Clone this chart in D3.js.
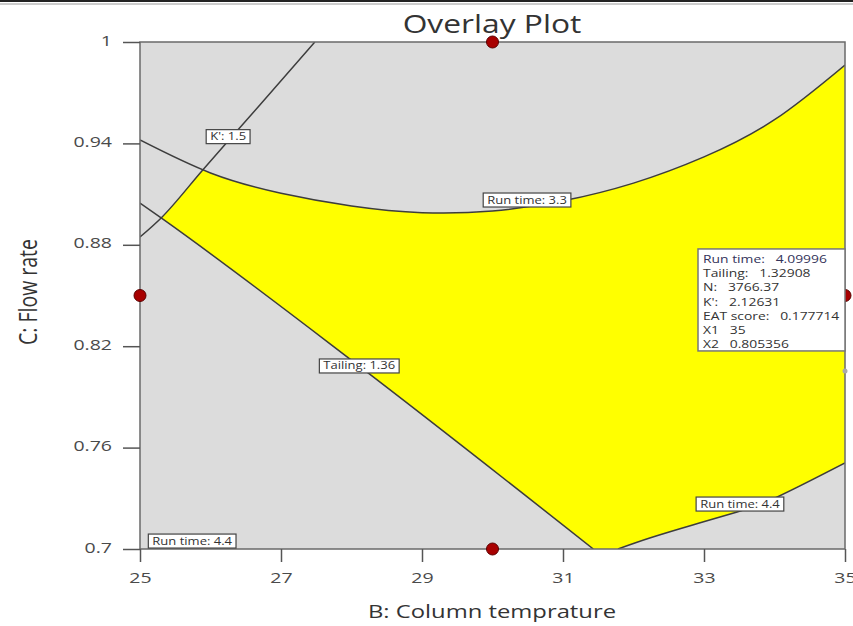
<!DOCTYPE html>
<html>
<head>
<meta charset="utf-8">
<script src="https://cdn.jsdelivr.net/npm/d3@7"></script>
<style>
  body { margin: 0; background: #fff; }
  svg { display: block; font-family: "Open Sans", "Noto Sans", sans-serif; }
</style>
</head>
<body>
<script>
// axis ticks
var xTicks = [25, 27, 29, 31, 33, 35],
    yTicks = [0.7, 0.76, 0.82, 0.88, 0.94, 1];

// design points (red) and the flagged point
var designPoints = [[30, 1], [25, 0.85], [35, 0.85], [30, 0.7]];
var flagPoint = [35, 0.805356];

// contours: [B, C]
var kContour = [[25, 0.8846], [25.3, 0.8959], [25.89, 0.9243], [26.7, 0.9627], [27.48, 1]];
var tailingContour = [[25, 0.9047], [25.3, 0.8959], [28.1, 0.8085], [31.43, 0.7]];
var runTime33 = [[25, 0.942], [26, 0.9225], [27, 0.9105], [28, 0.903], [29, 0.899], [30, 0.9],
                 [31, 0.906], [32, 0.9165], [33, 0.932], [34, 0.954], [35, 0.9864]];
var runTime44 = [[31.78, 0.7], [32.23, 0.7065], [32.84, 0.7142], [33.47, 0.7219], [34.04, 0.7308], [35, 0.7509]];

// contour flags
var flagTexts = ["K': 1.5", "Run time: 3.3", "Tailing: 1.36", "Run time: 4.4", "Run time: 4.4"];
var flagSpots = [[26.25, 0.944], [30.49, 0.9065], [28.11, 0.8083], [33.51, 0.7266], [25.74, 0.7047]];

// info box
var infoLabels = ["Run time:", "Tailing:", "N:", "K':", "EAT score:", "X1", "X2"];
var infoValues = ["4.09996", "1.32908", "3766.37", "2.12631", "0.177714", "35", "0.805356"];

var W = 853, H = 626;
var svg = d3.select('body').append('svg').attr('width', W).attr('height', H);

var x = d3.scaleLinear().domain([25, 35]).range([140, 845]),
    y = d3.scaleLinear().domain([0.7, 1]).range([549, 42]);

// the screenshot is wider than tall text would be, so stretch glyphs sideways
function stretch(sel, k) {
    sel.each(function() {
        var w = this.getComputedTextLength();
        d3.select(this).attr('textLength', w * k).attr('lengthAdjust', 'spacingAndGlyphs');
    });
}

// top border of the screenshot
svg.append('line').attr('x1', 0).attr('x2', W).attr('y1', 1).attr('y2', 1)
    .attr('stroke', '#222').attr('stroke-width', 2);
svg.append('line').attr('x1', 0).attr('x2', W).attr('y1', 4).attr('y2', 4)
    .attr('stroke', '#999').attr('stroke-width', 1);

// title
svg.append('text').attr('x', 492).attr('y', 33).attr('text-anchor', 'middle')
    .attr('font-size', 25).attr('fill', '#333').text('Overlay Plot')
    .call(stretch, 1.27);

// plot background
svg.append('rect').attr('x', x(25)).attr('y', y(1))
    .attr('width', x(35) - x(25)).attr('height', y(0.7) - y(1))
    .attr('fill', '#dcdcdc');

function lineGen(curve) {
    return d3.line().x(function(d) { return x(d[0]); }).y(function(d) { return y(d[1]); }).curve(curve);
}
var straight = lineGen(d3.curveMonotoneX),
    smooth = lineGen(d3.curveNatural);

function region(gen, pts, corners) {
    return gen(pts) + corners.map(function(c) { return 'L' + x(c[0]) + ',' + y(c[1]); }).join('') + 'Z';
}

var defs = svg.append('defs');
defs.append('clipPath').attr('id', 'clipK').append('path')
    .attr('d', region(straight, kContour, [[36, 1.1], [36, 0.6], [24, 0.6]]));
defs.append('clipPath').attr('id', 'clipT').append('path')
    .attr('d', region(straight, tailingContour, [[31.43, 0.6], [36, 0.6], [36, 1.1], [24, 1.1], [24, 0.9047]]));
defs.append('clipPath').attr('id', 'clipR').append('path')
    .attr('d', region(smooth, runTime44, [[36, 0.7509], [36, 1.1], [24, 1.1], [24, 0.6], [31.78, 0.6]]));
defs.append('clipPath').attr('id', 'clipPlot').append('rect')
    .attr('x', x(25)).attr('y', y(1)).attr('width', x(35) - x(25)).attr('height', y(0.7) - y(1));

// yellow feasible area = under RT3.3, right of K, above tailing, above RT4.4
svg.append('g').attr('clip-path', 'url(#clipPlot)')
  .append('g').attr('clip-path', 'url(#clipK)')
  .append('g').attr('clip-path', 'url(#clipT)')
  .append('g').attr('clip-path', 'url(#clipR)')
  .append('path')
    .attr('d', region(smooth, runTime33, [[35, 0.7], [25, 0.7]]))
    .attr('fill', '#ffff00');

// contour lines
var lines = svg.append('g').attr('clip-path', 'url(#clipPlot)');
[[straight, kContour], [straight, tailingContour], [smooth, runTime33], [smooth, runTime44]].forEach(function(c) {
    lines.append('path').attr('d', c[0](c[1])).attr('fill', 'none')
        .attr('stroke', '#3d3d3d').attr('stroke-width', 1.5);
});

// plot frame
svg.append('rect').attr('x', x(25)).attr('y', y(1))
    .attr('width', x(35) - x(25)).attr('height', y(0.7) - y(1))
    .attr('fill', 'none').attr('stroke', '#6a6a6a').attr('stroke-width', 1.5);

// axes
var xAxis = svg.append('g').attr('transform', 'translate(0,' + y(0.7) + ')')
    .call(d3.axisBottom(x).tickValues(xTicks).tickFormat(d3.format('d')).tickSizeInner(13).tickSizeOuter(0).tickPadding(10));
var yAxis = svg.append('g').attr('transform', 'translate(' + x(25) + ',0)')
    .call(d3.axisLeft(y).tickValues(yTicks).tickFormat(function(d) { return String(d); }).tickSizeInner(17).tickSizeOuter(0).tickPadding(11));
[xAxis, yAxis].forEach(function(a) {
    a.select('.domain').remove();
    a.selectAll('line').attr('stroke', '#555').attr('stroke-width', 1.5);
    a.selectAll('text').attr('font-size', 15).attr('fill', '#4a4a4a')
        .attr('font-family', '"Open Sans", sans-serif')
        .call(stretch, 1.3);
});
yAxis.selectAll('text').attr('dy', '0.2em');

// axis titles
svg.append('text').attr('x', 492).attr('y', 618).attr('text-anchor', 'middle')
    .attr('font-size', 17.5).attr('fill', '#333').text('B: Column temprature')
    .call(stretch, 1.36);
svg.append('text').attr('transform', 'translate(37,292) scale(1.33,1) rotate(-90)').attr('text-anchor', 'middle')
    .attr('font-size', 19.5).attr('fill', '#333').text('C: Flow rate');

// design points
svg.append('g').selectAll('circle').data(designPoints).join('circle')
    .attr('cx', function(d) { return x(d[0]); }).attr('cy', function(d) { return y(d[1]); })
    .attr('r', 6).attr('fill', '#a80000').attr('stroke', '#5a0000').attr('stroke-width', 1);

// flagged point
svg.append('circle').attr('cx', x(flagPoint[0])).attr('cy', y(flagPoint[1])).attr('r', 2.5)
    .attr('fill', '#aaa');

// contour flags
var flags = svg.append('g').selectAll('g').data(flagTexts).join('g')
    .attr('transform', function(d, i) { return 'translate(' + x(flagSpots[i][0]) + ',' + y(flagSpots[i][1]) + ')'; });
flags.append('rect');
flags.append('text').attr('text-anchor', 'middle').attr('dy', '0.35em')
    .attr('font-size', 10).attr('fill', '#333').text(function(d) { return d; });
flags.each(function() {
    var g = d3.select(this), t = g.select('text'), w = t.node().getComputedTextLength() * 1.3;
    t.call(stretch, 1.3);
    g.select('rect').attr('x', -w / 2 - 4).attr('y', -7).attr('width', w + 8).attr('height', 14)
        .attr('fill', '#fff').attr('stroke', '#444').attr('stroke-width', 1.2);
});

// info box
var bx = x(35) - 147, by = y(flagPoint[1]) - 122;
var info = svg.append('g').attr('transform', 'translate(' + bx + ',' + by + ')');
info.append('rect').attr('width', 147).attr('height', 102)
    .attr('fill', '#fff').attr('stroke', '#777').attr('stroke-width', 1.5);
info.selectAll('text').data(infoLabels).join('text')
    .attr('x', 5).attr('y', function(d, i) { return 14 + i * 14.2; })
    .attr('font-size', 10.5).attr('fill', function(d, i) { return i === 0 ? '#33335a' : '#333'; })
    .style('white-space', 'pre')
    .text(function(d, i) { return d + '   ' + infoValues[i]; })
    .call(stretch, 1.32);
</script>
</body>
</html>
